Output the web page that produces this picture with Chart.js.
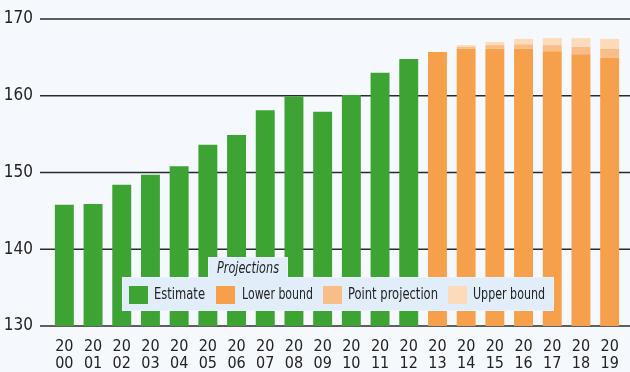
<!DOCTYPE html>
<html><head><meta charset="utf-8">
<script src="https://cdn.jsdelivr.net/npm/chart.js@4/dist/chart.umd.min.js"></script>
<style>
html,body{margin:0;padding:0;background:#F5F9FE;}
#wrap{position:relative;width:630px;height:372px;overflow:hidden;}
#c{position:absolute;left:0;top:0;}
.lg{font-family:"DejaVu Sans Condensed","DejaVu Sans",sans-serif;color:#222;font-size:15px;}
#box{position:absolute;left:122px;top:277px;width:432px;height:34px;background:#E1EDF9;box-sizing:border-box;border:1px solid #EAF2FB;}
#tab{position:absolute;left:208px;top:257px;width:80px;height:22px;background:#E1EDF9;box-sizing:border-box;border:1px solid #EAF2FB;border-bottom:none;}
#tabtx{position:absolute;left:217px;top:258px;font-style:italic;line-height:20px;white-space:nowrap;transform-origin:0 50%;}
.sw{position:absolute;width:19px;height:18px;top:286px;}
.tx{position:absolute;top:284px;line-height:20px;white-space:nowrap;transform-origin:0 50%;}
</style>
</head><body>
<div id="wrap">
<canvas id="c" width="630" height="372"></canvas>
<div id="box"></div>
<div id="tab"></div>
<div id="tabtx" class="lg">Projections</div>
<div id="items"></div>
</div>
<script>
const years = ['2000','2001','2002','2003','2004','2005','2006','2007','2008','2009','2010','2011','2012','2013','2014','2015','2016','2017','2018','2019'];
const estimate = [145.8,145.9,148.4,149.7,150.8,153.6,154.9,158.1,159.9,157.9,160.1,163.0,164.8,null,null,null,null,null,null,null];
const lowerBound = [null,null,null,null,null,null,null,null,null,null,null,null,null,165.7,166.1,166.1,166.1,165.8,165.4,165.0];
const pointProjection = [null,null,null,null,null,null,null,null,null,null,null,null,null,165.7,166.35,166.6,166.7,166.6,166.35,166.1];
const upperBound = [null,null,null,null,null,null,null,null,null,null,null,null,null,165.7,166.6,167.0,167.4,167.5,167.5,167.4];
const yTicks = [130,140,150,160,170];
const seriesNames = ['Estimate','Lower bound','Point projection','Upper bound'];
const colors = ['#3DA434','#F7A04C','#F9BE87','#FDDAB9'];

const xLabels = years.map(y => [y.slice(0,2), y.slice(2)]);
const range = (lo, hi) => lo.map((l,i) => (l==null||hi[i]==null) ? null : [l, hi[i]]);

const FONT = '"DejaVu Sans Condensed","DejaVu Sans",sans-serif';

const gridPlugin = {
  id:'gridlines',
  beforeDatasetsDraw(chart){
    const ctx = chart.ctx, y = chart.scales.y;
    ctx.save();
    ctx.strokeStyle = '#2a2a2a';
    ctx.lineWidth = 1.4;
    yTicks.forEach(t => {
      const py = y.getPixelForValue(t);
      ctx.beginPath(); ctx.moveTo(40, py); ctx.lineTo(chart.width, py); ctx.stroke();
    });
    ctx.restore();
  }
};

const common = {categoryPercentage:1, barPercentage:0.66, borderWidth:0};
new Chart(document.getElementById('c'), {
  type:'bar',
  data:{
    labels:xLabels,
    datasets:[
      Object.assign({label:seriesNames[3], data:range(pointProjection, upperBound), backgroundColor:colors[3], order:3}, common),
      Object.assign({label:seriesNames[2], data:range(lowerBound, pointProjection), backgroundColor:colors[2], order:2}, common),
      Object.assign({label:seriesNames[1], data:lowerBound, backgroundColor:colors[1], order:1}, common),
      Object.assign({label:seriesNames[0], data:estimate, backgroundColor:colors[0], order:0}, common)
    ]
  },
  options:{
    responsive:false, animation:false,
    layout:{padding:{top:19, right:6, left:0, bottom:0}},
    plugins:{legend:{display:false}, tooltip:{enabled:false}},
    scales:{
      x:{stacked:true, grid:{display:false, drawTicks:false}, border:{display:false},
         ticks:{color:'#222', font:{family:FONT, size:16, lineHeight:1.06}, padding:12, maxRotation:0, autoSkip:false},
         afterFit(s){ s.height = 46; s.paddingLeft = 0; s.paddingRight = 0; }},
      y:{min:130, max:170, stacked:false, grid:{display:false, drawTicks:false}, border:{display:false},
         ticks:{stepSize:10, color:'#222', font:{family:FONT, size:17}, padding:17},
         afterFit(s){ s.width = 50; s.paddingTop = 0; s.paddingBottom = 0; }}
    }
  },
  plugins:[gridPlugin]
});

// legend items, condensed to the reference text widths
function fit(el, w){ const a = el.getBoundingClientRect().width; if (a > 0) el.style.transform = 'scaleX(' + (w/a) + ')'; }
const items = document.getElementById('items');
const swX = [129,216,323,448], txX = [154,242,348,473], txW = [51,71,90,72];
seriesNames.forEach((n,i) => {
  const s = document.createElement('div'); s.className='sw'; s.style.left=swX[i]+'px'; s.style.background=colors[i]; items.appendChild(s);
  const t = document.createElement('div'); t.className='tx lg'; t.style.left=txX[i]+'px'; t.textContent=n; items.appendChild(t);
  fit(t, txW[i]);
});
fit(document.getElementById('tabtx'), 62);
</script>
</body></html>
